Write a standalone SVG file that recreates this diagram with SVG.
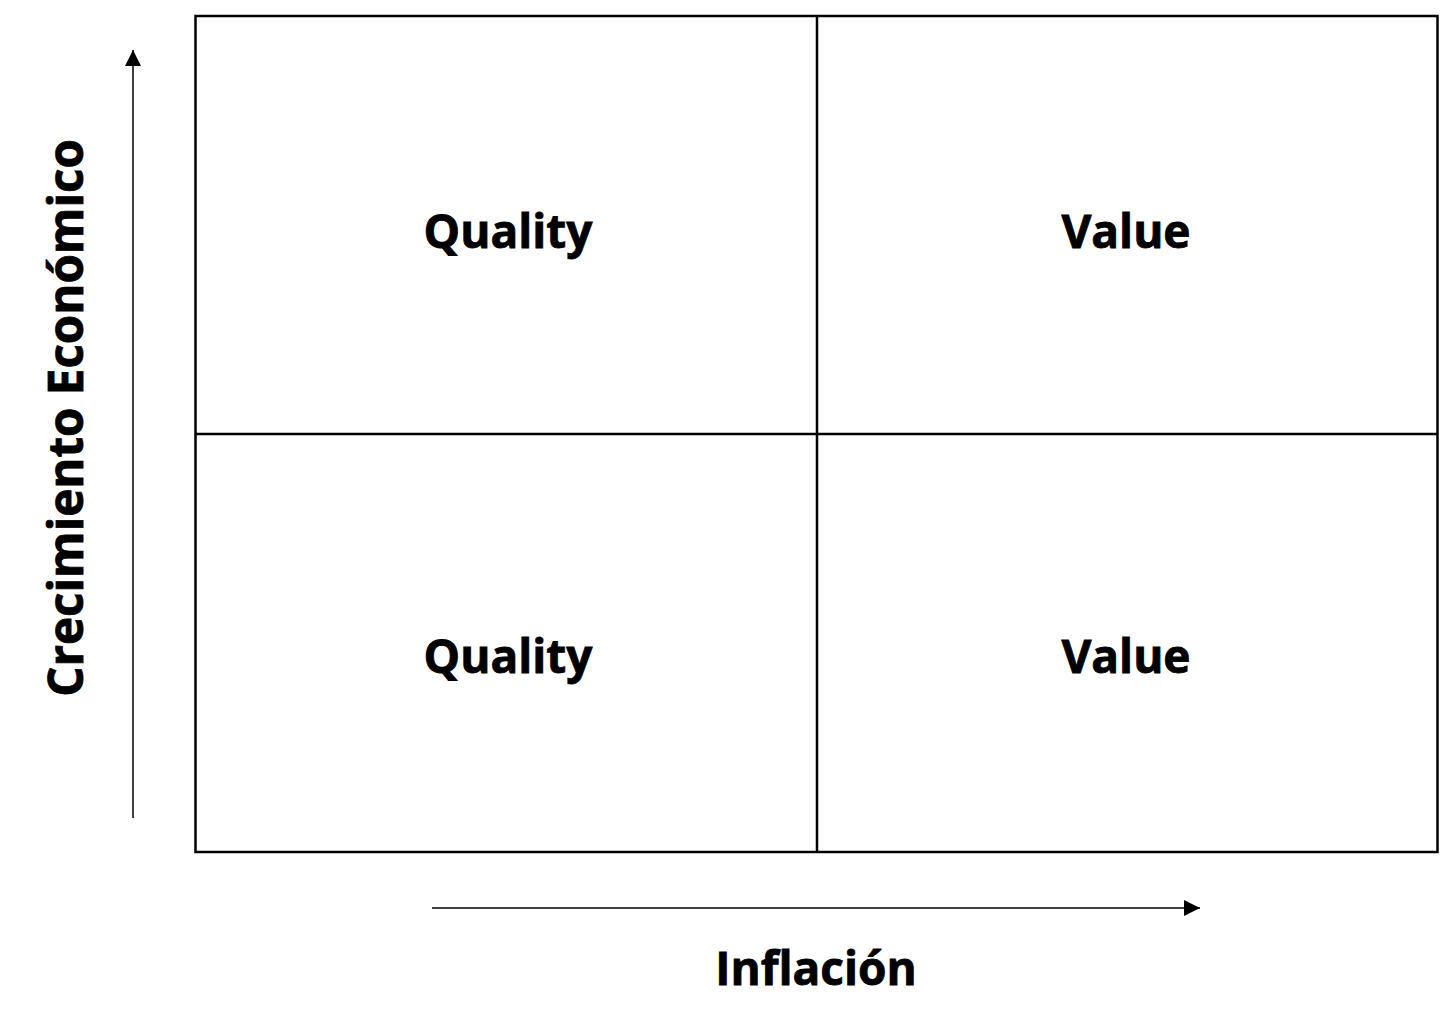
<svg xmlns="http://www.w3.org/2000/svg" width="1456" height="1012" viewBox="0 0 1456 1012">
<style>
.lbl{font-family:"Open Sans","Noto Sans","Liberation Sans",sans-serif;font-weight:700;font-size:46px;fill:#000;stroke:#000;stroke-width:0.8;text-anchor:middle}
.grid{fill:none;stroke:#000;stroke-width:2.5}
.ax{stroke:#000;stroke-width:1.5;fill:none}
</style>
<defs>
<marker id="ah" viewBox="0 0 16 16" refX="16" refY="8" markerWidth="16" markerHeight="16" markerUnits="userSpaceOnUse" orient="auto">
<path d="M0,0 L16,8 L0,16 Z" fill="#000"/>
</marker>
</defs>
<rect width="1456" height="1012" fill="#fff"/>
<g id="grid">
<rect class="grid" x="195.5" y="16" width="1242" height="836"/>
<line class="grid" x1="817" y1="16" x2="817" y2="852"/>
<line class="grid" x1="195.5" y1="434" x2="1437.5" y2="434"/>
</g>
<g id="q-tl"><text class="lbl" x="508" y="248">Quality</text></g>
<g id="v-tr"><text class="lbl" x="1126" y="248">Value</text></g>
<g id="q-bl"><text class="lbl" x="508" y="673">Quality</text></g>
<g id="v-br"><text class="lbl" x="1126" y="673">Value</text></g>
<g id="connectors">
<line class="ax" x1="133" y1="818" x2="133" y2="50" marker-end="url(#ah)"/>
<line class="ax" x1="432" y1="908" x2="1200" y2="908" marker-end="url(#ah)"/>
</g>
<g id="y-label"><text class="lbl" style="font-size:47.5px" transform="translate(83,418) rotate(-90)" x="0" y="0">Crecimiento Económico</text></g>
<g id="x-label"><text class="lbl" x="816" y="985">Inflación</text></g>
</svg>
